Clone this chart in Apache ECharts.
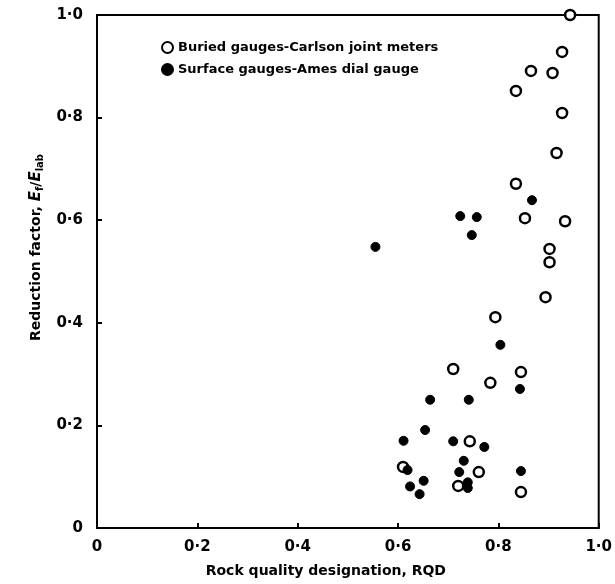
<!DOCTYPE html>
<html>
<head>
<meta charset="utf-8">
<script src="https://cdn.jsdelivr.net/npm/echarts@6/dist/echarts.min.js"></script>
<style>html,body{margin:0;padding:0;background:#fff}#c{width:615px;height:584px}</style>
</head>
<body>
<div id="c"></div>
<script>
var xTicks = ['0', '0·2', '0·4', '0·6', '0·8', '1·0'];
var yTicks = ['0', '0·2', '0·4', '0·6', '0·8', '1·0'];
var seriesNames = ['Buried gauges-Carlson joint meters', 'Surface gauges-Ames dial gauge'];

var buriedRQD = [0.943, 0.927, 0.865, 0.908, 0.835, 0.927, 0.916, 0.835, 0.853, 0.933, 0.902, 0.902, 0.894, 0.794, 0.710, 0.845, 0.784, 0.743, 0.610, 0.761, 0.720, 0.845];
var buriedFactor = [1.0, 0.928, 0.891, 0.887, 0.852, 0.809, 0.731, 0.671, 0.604, 0.598, 0.544, 0.518, 0.450, 0.411, 0.310, 0.304, 0.283, 0.169, 0.119, 0.109, 0.082, 0.070];

var surfaceRQD = [0.867, 0.724, 0.757, 0.747, 0.555, 0.804, 0.843, 0.664, 0.741, 0.654, 0.611, 0.710, 0.772, 0.731, 0.619, 0.722, 0.845, 0.651, 0.739, 0.624, 0.739, 0.643];
var surfaceFactor = [0.639, 0.608, 0.606, 0.571, 0.548, 0.357, 0.271, 0.250, 0.250, 0.191, 0.170, 0.169, 0.158, 0.131, 0.113, 0.109, 0.111, 0.092, 0.089, 0.081, 0.078, 0.066];

function pairs(xs, ys) { return xs.map(function (x, i) { return [x, ys[i]]; }); }
function tickLabel(arr) { return function (v) { var i = Math.round(v / 0.2); return arr[i] !== undefined ? arr[i] : ''; }; }

var font = 'DejaVu Sans';
var chart = echarts.init(document.getElementById('c'));
chart.setOption({
  animation: false,
  backgroundColor: '#fff',
  grid: { left: 97, right: 8, top: 15, bottom: 56, show: true, borderColor: '#000', borderWidth: 2 },
  legend: {
    orient: 'vertical', left: 156, top: 36, itemGap: 9, itemWidth: 11, itemHeight: 11,
    data: seriesNames,
    textStyle: { fontFamily: font, fontSize: 13, fontWeight: 'bold', color: '#000' }
  },
  xAxis: {
    type: 'value', min: 0, max: 1, interval: 0.2,
    name: 'Rock quality designation, RQD', nameLocation: 'middle', nameGap: 36,
    nameTextStyle: { fontFamily: font, fontSize: 14, fontWeight: 'bold', color: '#000', padding: [0, 44, 0, 0] },
    axisLine: { lineStyle: { color: '#000', width: 2 } },
    axisTick: { inside: true, length: 5, lineStyle: { color: '#000', width: 2 } },
    axisLabel: { margin: 12, fontFamily: font, fontSize: 15, fontWeight: 'bold', color: '#000', formatter: tickLabel(xTicks) },
    splitLine: { show: false }
  },
  yAxis: {
    type: 'value', min: 0, max: 1, interval: 0.2,
    name: '{t|Reduction factor, }{i|E}{s|f}{t|/}{i|E}{s|lab}', nameLocation: 'middle', nameGap: 52,
    nameTextStyle: {
      padding: [0, 0, 0, 48],
      rich: {
        t: { fontFamily: font, fontSize: 14, fontWeight: 'bold', color: '#000' },
        i: { fontFamily: font, fontSize: 15, fontWeight: 'bold', fontStyle: 'italic', color: '#000' },
        s: { fontFamily: font, fontSize: 10, fontWeight: 'bold', color: '#000', verticalAlign: 'bottom', padding: [8, 0, 0, 0] }
      }
    },
    axisLine: { lineStyle: { color: '#000', width: 2 } },
    axisTick: { inside: true, length: 5, lineStyle: { color: '#000', width: 2 } },
    axisLabel: { margin: 14, fontFamily: font, fontSize: 15, fontWeight: 'bold', color: '#000', formatter: tickLabel(yTicks) },
    splitLine: { show: false }
  },
  series: [
    {
      name: seriesNames[0], type: 'scatter', symbol: 'circle', symbolSize: 10, clip: false,
      itemStyle: { color: '#fff', borderColor: '#000', borderWidth: 2.5, opacity: 1 },
      data: pairs(buriedRQD, buriedFactor)
    },
    {
      name: seriesNames[1], type: 'scatter', symbol: 'circle', symbolSize: 9, clip: false,
      itemStyle: { color: '#000', borderColor: '#000', borderWidth: 1, opacity: 1 },
      data: pairs(surfaceRQD, surfaceFactor)
    }
  ]
});
</script>
</body>
</html>
